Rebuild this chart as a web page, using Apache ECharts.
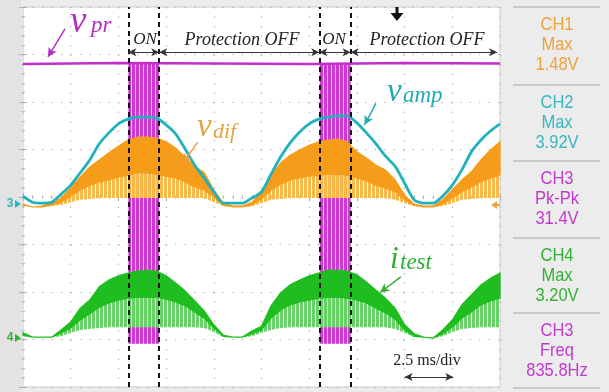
<!DOCTYPE html>
<html><head><meta charset="utf-8">
<script src="https://cdn.jsdelivr.net/npm/echarts@6/dist/echarts.min.js"></script>
<style>html,body{margin:0;padding:0;background:#ececec}#c{width:609px;height:392px}</style>
</head><body><div id="c"></div><script>
// ---- data (time in ms, amplitude in divisions) ----
const time = [0,0.5,1,1.5,2,2.5,3,3.5,4,4.5,5,5.5,6,6.5,7,7.5,8,8.5,9,9.5,10,10.5,11,11.5,12,12.5,13,13.5,14,14.5,15,15.5,16,16.5,17,17.5,18,18.5,19,19.5,20,20.5,21,21.5,22,22.5,23,23.5,24,24.5,25];
const vamp = [0.02,-0.11,-0.13,-0.11,0.06,0.25,0.51,0.78,1.12,1.35,1.54,1.64,1.68,1.68,1.66,1.52,1.33,1.01,0.67,0.40,0.11,-0.13,-0.13,-0.13,-0.02,0.11,0.48,0.84,1.14,1.37,1.54,1.64,1.68,1.71,1.71,1.56,1.35,1.12,0.86,0.65,0.29,-0.06,-0.13,-0.13,0.02,0.25,0.57,0.95,1.20,1.39,1.54];
const vdifTop = [-0.15,-0.21,-0.19,-0.13,-0.02,0.19,0.42,0.63,0.78,0.93,1.07,1.20,1.26,1.26,1.24,1.16,1.03,0.84,0.65,0.51,0.15,-0.13,-0.19,-0.19,-0.11,0.11,0.44,0.72,0.88,0.99,1.09,1.16,1.20,1.22,1.16,0.95,0.82,0.67,0.57,0.36,0.04,-0.15,-0.19,-0.19,-0.06,0.15,0.36,0.53,0.78,0.99,1.16];
const vdifMid = [-0.17,-0.21,-0.21,-0.17,-0.11,0.02,0.15,0.25,0.32,0.36,0.42,0.46,0.51,0.51,0.48,0.44,0.40,0.32,0.21,0.15,0.00,-0.17,-0.21,-0.21,-0.17,-0.04,0.15,0.27,0.36,0.40,0.44,0.46,0.48,0.48,0.46,0.40,0.34,0.25,0.19,0.11,-0.06,-0.17,-0.21,-0.21,-0.15,-0.02,0.11,0.21,0.32,0.40,0.46];
const vdifBot = [-0.17,-0.21,-0.21,-0.19,-0.17,-0.11,-0.06,-0.04,-0.02,-0.02,-0.02,-0.02,-0.02,-0.02,-0.02,-0.02,-0.02,-0.02,-0.02,-0.02,-0.11,-0.19,-0.21,-0.21,-0.19,-0.13,-0.06,-0.04,-0.02,-0.02,-0.02,-0.02,-0.02,-0.02,-0.02,-0.02,-0.02,-0.02,-0.02,-0.06,-0.13,-0.19,-0.21,-0.21,-0.19,-0.13,-0.06,-0.04,-0.02,-0.02,-0.02];
const itestTop = [-2.86,-2.95,-2.95,-2.95,-2.80,-2.63,-2.34,-2.17,-1.89,-1.75,-1.66,-1.60,-1.56,-1.54,-1.56,-1.66,-1.81,-1.98,-2.19,-2.40,-2.69,-2.91,-2.95,-2.95,-2.82,-2.72,-2.29,-2.02,-1.85,-1.75,-1.66,-1.60,-1.54,-1.54,-1.56,-1.64,-1.79,-1.96,-2.13,-2.34,-2.69,-2.88,-2.95,-2.97,-2.80,-2.59,-2.27,-2.06,-1.85,-1.71,-1.60];
const itestMid = [-2.91,-2.95,-2.95,-2.95,-2.86,-2.76,-2.59,-2.46,-2.32,-2.23,-2.17,-2.13,-2.11,-2.11,-2.11,-2.15,-2.21,-2.29,-2.42,-2.55,-2.76,-2.93,-2.95,-2.95,-2.88,-2.80,-2.55,-2.38,-2.27,-2.21,-2.17,-2.13,-2.11,-2.11,-2.13,-2.17,-2.23,-2.34,-2.44,-2.57,-2.80,-2.93,-2.95,-2.97,-2.88,-2.74,-2.55,-2.42,-2.27,-2.19,-2.13];
const itestBot = [-2.93,-2.95,-2.95,-2.95,-2.93,-2.86,-2.80,-2.78,-2.76,-2.74,-2.74,-2.74,-2.74,-2.74,-2.74,-2.74,-2.74,-2.74,-2.74,-2.76,-2.84,-2.95,-2.95,-2.95,-2.93,-2.86,-2.80,-2.76,-2.74,-2.74,-2.74,-2.74,-2.74,-2.74,-2.74,-2.74,-2.74,-2.74,-2.74,-2.78,-2.86,-2.95,-2.95,-2.97,-2.93,-2.84,-2.78,-2.76,-2.74,-2.74,-2.74];
const vprTime = [0,5,10,15,20,25];
const vprLevel = [2.80,2.82,2.81,2.80,2.82,2.81];
const vprHigh = 2.82;
const vprLow = -3.09;
const onStart = [5.52,15.53];
const onEnd = [7.14,17.17];
const xMin = 0, xMax = 25, xStep = 2.5;
const yMin = -4, yMax = 4, yStep = 1;
const measChannel = ['CH1','CH2','CH3','CH4','CH3'];
const measType = ['Max','Max','Pk-Pk','Max','Freq'];
const measValue = ['1.48V','3.92V','31.4V','3.20V','835.8Hz'];

// ---- styles ----
function stripes(main, gap, mw, gw){
  const c=document.createElement('canvas'); c.width=mw+gw; c.height=4;
  const g=c.getContext('2d'); g.fillStyle=main; g.fillRect(0,0,mw,4);
  if(gap){ g.fillStyle=gap; g.fillRect(mw,0,gw,4); }
  return {image:c, repeat:'repeat'};
}
const measColor = ['#efa23a','#36b7c1','#c23acb','#33b033','#c23acb'];
const pairs = (ys) => time.map((t,i)=>[t,ys[i]]);

function band(name, lower, upper, fill, z, stroke){
  return {type:'custom', name, z, silent:true, coordinateSystem:'cartesian2d', data:[[time[0], lower[0]]],
    renderItem:(params, api)=>{
      const pts=[];
      for(let i=0;i<time.length;i++) pts.push(api.coord([time[i], upper[i]]));
      for(let i=time.length-1;i>=0;i--) pts.push(api.coord([time[i], lower[i]]));
      return {type:'polygon', shape:{points:pts}, style:{fill, stroke:stroke||null, lineWidth:stroke?1.2:0}};
    }};
}

const axisCommon = {
  type:'value', axisLine:{show:false}, axisLabel:{show:false},
  axisTick:{show:true, inside:true, length:4, lineStyle:{color:'#b0b0b0'}},
  minorTick:{show:true, splitNumber:5, length:2, lineStyle:{color:'#c0c0c0'}}
};
const gridDots = {show:true, lineStyle:{color:'#b8b8b8', type:[1.5,8], width:1.2}};

const serif = '"Liberation Serif","Times New Roman",serif';
const sans = '"Liberation Sans",Arial,sans-serif';
function txt(x,y,text,size,color,align,italic){
  return {type:'text', x, y, z:100, style:{text, fontSize:size, fontFamily:serif, fontStyle:italic===false?'normal':'italic', fill:color, align:align||'left', verticalAlign:'middle'}};
}

const graphic = [
  {type:'rect', z:-1, shape:{x:0,y:0,width:21,height:392}, style:{fill:'#e3e3e3'}},
  txt(145,40,'ON',17,'#222','center'),
  txt(334,40,'ON',17,'#222','center'),
  txt(242,40,'Protection OFF',18,'#222','center'),
  txt(427,40,'Protection OFF',18,'#222','center'),
  txt(70,22,'v',37,'#b52fc2'), txt(91,26,'pr',23,'#b52fc2'),
  txt(387,92,'v',33,'#22a9b3'), txt(403,96,'amp',23,'#22a9b3'),
  txt(197,127,'v',33,'#e6a23f'), txt(213,132,'dif',22,'#e6a23f'),
  txt(390,260,'i',31,'#2fae2f'), txt(400,263,'test',23,'#2fae2f'),
  txt(427,361,'2.5 ms/div',16,'#222','center',false),
  {type:'rect', z:100, shape:{x:395.5,y:7,width:3,height:7}, style:{fill:'#111'}},
  {type:'polygon', z:100, shape:{points:[[390.5,13],[403.5,13],[397,21]]}, style:{fill:'#111'}},
  {type:'text', x:10, y:204, z:100, style:{text:'3', fontSize:12, fontWeight:'bold', fontFamily:sans, fill:'#2cb4bd', align:'center', verticalAlign:'middle'}},
  {type:'polygon', z:100, shape:{points:[[15,200],[21,204],[15,208]]}, style:{fill:'#2cb4bd'}},
  {type:'text', x:10, y:338, z:100, style:{text:'4', fontSize:12, fontWeight:'bold', fontFamily:sans, fill:'#33b033', align:'center', verticalAlign:'middle'}},
  {type:'polygon', z:100, shape:{points:[[15,334],[21,338],[15,342]]}, style:{fill:'#33b033'}},
  {type:'polygon', z:100, shape:{points:[[491,205],[497,201],[497,209]]}, style:{fill:'#f2a33a'}},
  {type:'rect', z:100, shape:{x:496,y:204,width:4,height:2}, style:{fill:'#f2a33a'}}
];
const seps = [7,85,161,238,313,388];
seps.forEach(y=>graphic.push({type:'rect', z:50, shape:{x:513,y:y-1,width:87,height:2}, style:{fill:'#c9c9c9'}}));
measChannel.forEach((ch,i)=>{
  const y0 = seps[i];
  [ch, measType[i], measValue[i]].forEach((s,k)=>{
    graphic.push({type:'text', x:557, y:y0+18+k*20, scaleX:0.87, z:60,
      style:{text:s, fontSize:19, fontFamily:sans, fill:measColor[i], align:'center', verticalAlign:'middle'}});
  });
});

const onPattern = stripes('#cc3ad0','#f0b8f2',3,1);
const yArrow = 3.05;
const option = {
  animation:false,
  backgroundColor:'#ececec',
  grid:{left:23,right:109,top:7,bottom:5,show:true,backgroundColor:'#ffffff',borderColor:'#cdcdcd',borderWidth:1},
  xAxis:[
    Object.assign({}, axisCommon, {min:xMin,max:xMax,interval:xStep,position:'bottom',splitLine:gridDots}),
    Object.assign({}, axisCommon, {min:xMin,max:xMax,interval:xStep,position:'top',splitLine:{show:false}})
  ],
  yAxis:[
    Object.assign({}, axisCommon, {min:yMin,max:yMax,interval:yStep,position:'left',splitLine:gridDots}),
    Object.assign({}, axisCommon, {min:yMin,max:yMax,interval:yStep,position:'right',splitLine:{show:false}})
  ],
  series:[
    {name:'vprOn', type:'custom', z:1, silent:true, coordinateSystem:'cartesian2d',
     data:onStart.map((s,i)=>[s,onEnd[i]]), encode:{x:[0,1]},
     renderItem:(params, api)=>{
       const a=api.coord([api.value(0), vprHigh]), b=api.coord([api.value(1), vprLow]);
       return {type:'rect', shape:{x:a[0], y:a[1], width:b[0]-a[0], height:b[1]-a[1]}, style:{fill:onPattern}};
     }},
    {name:'vpr', type:'line', z:1, silent:true, symbol:'none', data:vprTime.map((t,i)=>[t,vprLevel[i]]),
     lineStyle:{color:'#c42fcb', width:2.5}},
    band('vdifLight', vdifBot, vdifMid, stripes('#f6b94c','rgba(253,236,200,0.35)',3,1), 2),
    band('vdifDense', vdifMid, vdifTop, '#f59d1a', 3, '#f59d1a'),
    band('itestLight', itestBot, itestMid, stripes('#68d268','rgba(220,245,220,0.35)',3,1), 2),
    band('itestDense', itestMid, itestTop, '#1fbd1f', 3, '#1fbd1f'),
    {name:'vamp', type:'line', z:4, silent:true, symbol:'none', smooth:0.25, data:pairs(vamp),
     lineStyle:{color:'#1fb2bc', width:2.8}},
    {name:'marks', type:'line', z:6, silent:true, symbol:'none', data:pairs(vamp), lineStyle:{opacity:0},
     markLine:{silent:true, symbol:['none','none'], label:{show:false},
       lineStyle:{color:'#111', type:[5,4], width:2},
       data:[...onStart, ...onEnd].map(v=>({xAxis:v}))}},
    {name:'spans', type:'line', z:7, silent:true, symbol:'none', data:pairs(vamp), lineStyle:{opacity:0},
     markLine:{silent:true, symbol:['arrow','arrow'], symbolSize:[6,8], label:{show:false},
       lineStyle:{color:'#333', type:'solid', width:1},
       data:[
         [{coord:[onStart[0],yArrow]},{coord:[onEnd[0],yArrow]}],
         [{coord:[onEnd[0],yArrow]},{coord:[onStart[1],yArrow]}],
         [{coord:[onStart[1],yArrow]},{coord:[onEnd[1],yArrow]}],
         [{coord:[onEnd[1],yArrow]},{coord:[24.85,yArrow]}],
         [{coord:[20.0,-3.79]},{coord:[22.55,-3.79]}]
       ]}},
    {name:'pointers', type:'line', z:8, silent:true, symbol:'none', data:pairs(vamp), lineStyle:{opacity:0},
     markLine:{silent:true, symbol:['none','arrow'], symbolSize:[7,9], label:{show:false},
       lineStyle:{type:'solid', width:1.5},
       data:[
         [{coord:[2.2,3.54], lineStyle:{color:'#b52fc2'}},{coord:[1.31,2.95]}],
         [{coord:[9.15,1.15], lineStyle:{color:'#e6a23f'}},{coord:[8.39,0.72]}],
         [{coord:[18.5,1.97], lineStyle:{color:'#22a9b3'}},{coord:[17.9,1.52]}],
         [{coord:[19.8,-1.68], lineStyle:{color:'#2fae2f'}},{coord:[18.72,-2.01]}]
       ]}}
  ],
  graphic
};
const chart = echarts.init(document.getElementById('c'), null, {renderer:'canvas'});
chart.setOption(option);
</script></body></html>
